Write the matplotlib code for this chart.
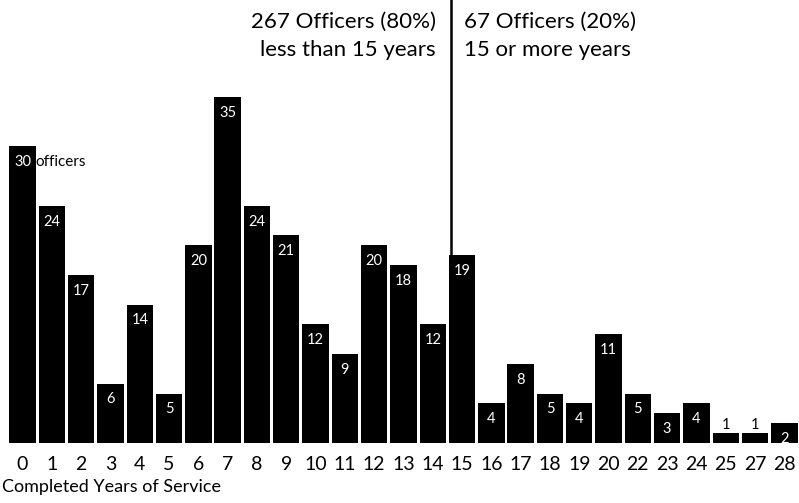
import matplotlib.pyplot as plt
import numpy as np

plt.rcParams['font.family'] = ['Lato', 'DejaVu Sans']

years = ['0', '1', '2', '3', '4', '5', '6', '7', '8', '9', '10', '11', '12', '13',
         '14', '15', '16', '17', '18', '19', '20', '22', '23', '24', '25', '27', '28']
officers = [30, 24, 17, 6, 14, 5, 20, 35, 24, 21, 12, 9, 20, 18,
            12, 19, 4, 8, 5, 4, 11, 5, 3, 4, 1, 1, 2]

fig = plt.figure(figsize=(7.99, 5.03), dpi=100)
ax = fig.add_axes([0, 60 / 503, 1, 443 / 503])

x = np.arange(len(years))
ax.bar(x, officers, width=0.9, color='black')

for xi, v in zip(x, officers):
    if v >= 2:
        ax.text(xi, v - 1.6, str(v), color='white', ha='center', va='center', fontsize=10.5)
    else:
        ax.text(xi, v + 0.8, str(v), color='black', ha='center', va='center', fontsize=10.5)
ax.text(0.45, officers[0] - 1.6, 'officers', color='black', ha='left', va='center', fontsize=11)

ax.set_xlim(-0.77, 26.5)
ax.set_ylim(0, 44.8)
ax.set_xticks(x)
ax.set_xticklabels(years, fontsize=14)
ax.tick_params(axis='x', length=0, pad=9)
ax.set_yticks([])
for s in ax.spines.values():
    s.set_visible(False)

ax.axvline(14.63, color='black', linewidth=1.8)
ax.text(14.1, 41.2, '267 Officers (80%)\nless than 15 years', ha='right', va='center',
        fontsize=16, linespacing=1.5, multialignment='right')
ax.text(15.05, 41.2, '67 Officers (20%)\n15 or more years', ha='left', va='center',
        fontsize=16, linespacing=1.5)

fig.text(2 / 799, 1 - 487 / 503, 'Completed Years of Service', ha='left', va='center', fontsize=13)

fig.savefig('out.png', dpi=100)
